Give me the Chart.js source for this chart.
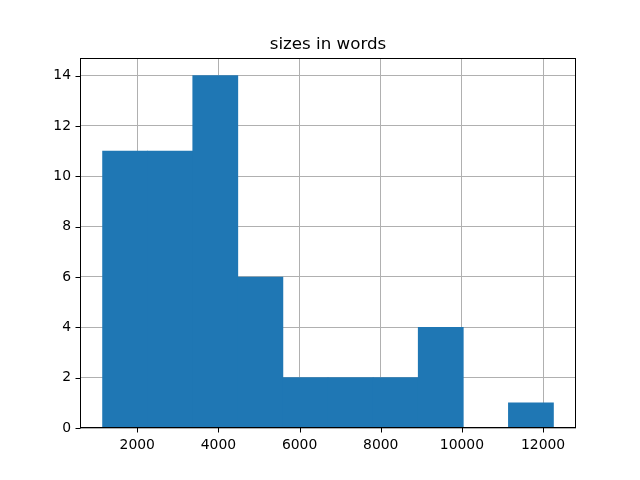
<!DOCTYPE html>
<html>
<head>
<meta charset="utf-8">
<script src="https://cdn.jsdelivr.net/npm/chart.js@4"></script>
<style>
  body { margin: 0; background: #fff; }
</style>
</head>
<body>
<canvas id="hist" width="640" height="480"></canvas>
<script>
// histogram bins
const binEdges = [1146, 2257, 3368, 4479, 5590, 6702, 7813, 8924, 10035, 11146, 12257];
const counts = [11, 11, 14, 6, 2, 2, 2, 4, 0, 1];
const xTicks = [2000, 4000, 6000, 8000, 10000, 12000];
const yTicks = [0, 2, 4, 6, 8, 10, 12, 14];
const chartTitle = 'sizes in words';

const points = counts.map((c, i) => ({ x: (binEdges[i] + binEdges[i + 1]) / 2, y: c }));

const frame = {
  id: 'frame',
  afterDraw(chart) {
    const { ctx, chartArea: a, scales } = chart;
    ctx.save();
    ctx.strokeStyle = '#000';
    ctx.lineWidth = 1;
    const l = Math.round(a.left) + 0.5, t = Math.round(a.top) + 0.5;
    const r = Math.round(a.right) - 0.5, b = Math.round(a.bottom) - 0.5;
    ctx.strokeRect(l, t, r - l, b - t);
    // tick marks
    ctx.beginPath();
    xTicks.forEach(v => {
      const x = Math.round(scales.x.getPixelForValue(v)) + 0.5;
      ctx.moveTo(x, b); ctx.lineTo(x, b + 5);
    });
    yTicks.forEach(v => {
      const y = Math.round(scales.y.getPixelForValue(v)) + 0.5;
      ctx.moveTo(l, y); ctx.lineTo(l - 5, y);
    });
    ctx.stroke();
    ctx.fillStyle = '#000';
    ctx.font = '16.7px "DejaVu Sans"';
    ctx.textAlign = 'center';
    ctx.textBaseline = 'alphabetic';
    ctx.fillText(chartTitle, (a.left + a.right) / 2, a.top - 9);
    ctx.restore();
  }
};

const tickFont = { family: 'DejaVu Sans', size: 13.9 };

new Chart(document.getElementById('hist'), {
  type: 'bar',
  data: {
    datasets: [{
      data: points,
      backgroundColor: '#1f77b4',
      borderWidth: 0,
      barPercentage: 1,
      categoryPercentage: 1
    }]
  },
  options: {
    responsive: false,
    animation: false,
    layout: { padding: { top: 58, right: 64, left: 0, bottom: 0 } },
    plugins: { legend: { display: false }, tooltip: { enabled: false }, title: { display: false } },
    scales: {
      x: {
        type: 'linear',
        min: 590,
        max: 12812,
        z: 1,
        offset: false,
        grid: { offset: false, color: '#b0b0b0', lineWidth: 1, drawTicks: false },
        border: { display: false },
        ticks: { font: tickFont, color: '#000', padding: 9, maxRotation: 0, callback: v => String(v) },
        afterBuildTicks: s => { s.ticks = xTicks.map(v => ({ value: v })); },
        afterFit: s => { s.height = 52; }
      },
      y: {
        min: 0,
        max: 14.7,
        z: 1,
        grid: { color: '#b0b0b0', lineWidth: 1, drawTicks: false },
        border: { display: false },
        ticks: { font: tickFont, color: '#000', padding: 9, callback: v => String(v) },
        afterBuildTicks: s => { s.ticks = yTicks.map(v => ({ value: v })); },
        afterFit: s => { s.width = 80; }
      }
    }
  },
  plugins: [frame]
});
</script>
</body>
</html>
